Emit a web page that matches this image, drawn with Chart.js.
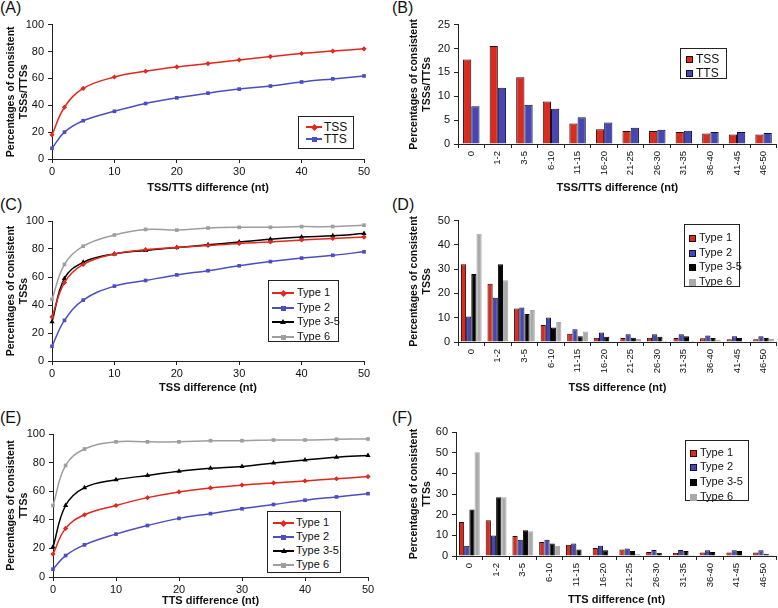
<!DOCTYPE html>
<html>
<head>
<meta charset="utf-8">
<script src="https://cdn.jsdelivr.net/npm/chart.js@4/dist/chart.umd.min.js"></script>
<style>
body{margin:0;background:#fff;font-family:"Liberation Sans",Arial,sans-serif;}
#fig{position:relative;width:778px;height:608px;overflow:hidden;background:#fff;}
#fig canvas{position:absolute;}
.tag{position:absolute;font-size:16px;line-height:16px;color:#111;}
.lg{position:absolute;border:1px solid #222;background:#fff;box-sizing:border-box;color:#111;}
.lg .txt{position:absolute;white-space:nowrap;}
.lg .sw{position:absolute;height:1.5px;}
.lg .mk{position:absolute;}
.lg .bx{position:absolute;width:7px;height:7px;box-sizing:border-box;}
</style>
</head>
<body>
<div id="fig">
  <div class="tag" style="left:0;top:0">(A)</div>
  <div class="tag" style="left:392px;top:0">(B)</div>
  <div class="tag" style="left:0;top:197px">(C)</div>
  <div class="tag" style="left:392px;top:197px">(D)</div>
  <div class="tag" style="left:0;top:410px">(E)</div>
  <div class="tag" style="left:392px;top:410px">(F)</div>
</div>
<script>
// x positions of the cumulative curves (nt) and the bins of the histograms
const lineX = [0, 2, 5, 10, 15, 20, 25, 30, 35, 40, 45, 50];
const bins = ["0", "1-2", "3-5", "6-10", "11-15", "16-20", "21-25", "26-30", "31-35", "36-40", "41-45", "46-50"];
const typeNames = ["Type 1", "Type 2", "Type 3-5", "Type 6"];

// (A) cumulative % of consistent TSSs / TTSs
const aTSS = [18, 38.5, 52.5, 61, 65.3, 68.5, 71, 73.7, 76.2, 78.5, 80.3, 82];
const aTTS = [8, 20, 28.5, 35.5, 41.3, 45.5, 49, 52, 54.3, 57.3, 59.6, 61.8];
// (B) % per bin
const bTSS = [17.7, 20.5, 14.0, 8.9, 4.3, 3.1, 2.7, 2.7, 2.5, 2.2, 2.0, 2.0];
const bTTS = [7.9, 11.8, 8.2, 7.4, 5.6, 4.5, 3.4, 3.0, 2.8, 2.5, 2.5, 2.3];
// (C) cumulative TSS by type
const cType1 = [31.5, 56, 69, 76.5, 79.5, 81, 82.5, 84, 85, 86.5, 87.5, 88.5];
const cType2 = [10.5, 29, 43.5, 53.5, 57.5, 61.5, 64.5, 68, 71, 73.5, 75.5, 78];
const cType35 = [28, 59, 70.5, 76.5, 79, 81, 83, 85, 87, 88.5, 89.5, 91];
const cType6 = [44, 69, 82, 90, 94, 93.5, 95, 95.5, 95.5, 96, 96, 97];
// (D) TSS per bin by type
const dType1 = [32, 24, 13.8, 7, 3.4, 1.8, 1.6, 1.7, 1.6, 1.5, 1.1, 1.1];
const dType2 = [10.5, 18.2, 14.2, 10.1, 5.3, 3.9, 3.2, 3.2, 3.2, 2.7, 2.4, 2.4];
const dType35 = [28, 32, 11.5, 6, 2.4, 2.2, 1.8, 2.2, 2.4, 1.6, 1.6, 1.6];
const dType6 = [44.6, 25.4, 13.2, 8.2, 4.3, 0.2, 1.2, 0.5, 0.5, 0.9, 0.3, 1.2];
// (E) cumulative TTS by type
const eType1 = [16, 34, 43.5, 50, 55.5, 59.5, 62.3, 64.3, 65.8, 67.2, 68.7, 70.2];
const eType2 = [5.5, 15, 22.5, 30, 36, 41, 44.3, 47.7, 50.7, 53.7, 56, 58.3];
const eType35 = [21, 50, 62.5, 68, 71, 74, 76, 77.3, 79.7, 81.8, 83.8, 85];
const eType6 = [50, 78, 89.5, 94.5, 94.5, 94.5, 95.3, 95.3, 95.8, 95.8, 96.3, 96.5];
// (F) TTS per bin by type
const fType1 = [16.5, 17.3, 9.7, 6.8, 5.5, 3.9, 3.1, 1.9, 1.6, 1.7, 1.7, 1.7];
const fType2 = [4.9, 9.9, 7.9, 7.9, 6, 4.9, 3.6, 2.9, 2.9, 2.8, 2.8, 2.8];
const fType35 = [22.5, 28.4, 12.5, 6, 3.1, 2.8, 2.4, 1.6, 2.4, 1.9, 2.4, 1.1];
const fType6 = [50.2, 28.4, 12, 4.9, 0.2, 0.1, 1.1, 0.3, 0.5, 0.3, 0.5, 0.5];

// tick labels
const xLineTicks = [0, 10, 20, 30, 40, 50];
const pctTicks = [0, 20, 40, 60, 80, 100];
const bTicks = [0, 5, 10, 15, 20, 25];
const dTicks = [0, 10, 20, 30, 40, 50];
const fTicks = [0, 10, 20, 30, 40, 50, 60];

const FONT = "'Liberation Sans', Arial, sans-serif";
const AX = "#222";
const RED = "#e0281e", BLUE = "#4d4dc2", BLACK = "#000000", GRAY = "#9e9e9e";
const lineStyle = [
  { color: RED, shape: "rectRot", r: 2.6 },
  { color: BLUE, shape: "rect", r: 2.6 },
  { color: BLACK, shape: "triangle", r: 3 },
  { color: GRAY, shape: "rect", r: 2.6 }
];
const barStyle = [
  { fill: "#d92b1f", line: "#2a0805" },
  { fill: "#4646b6", line: "#10102e" },
  { fill: "#060606", line: "#000000" },
  { fill: "#a9a9a9", line: "#a9a9a9" }
];

const fig = document.getElementById("fig");

function addCanvas(box){
  const c = document.createElement("canvas");
  c.width = box.w; c.height = box.h;
  c.style.left = box.x + "px"; c.style.top = box.y + "px";
  c.style.width = box.w + "px"; c.style.height = box.h + "px";
  fig.appendChild(c);
  return c;
}

function fixTicks(list){
  return function(s){ s.ticks = list.map(v => ({ value: v })); };
}

// box = canvas rect on the page, area = wanted plot rect on the page
function panel(box, area, padLeft, type, datasets, xTitle, yTitle, yTicks, titleBottom){
  const canvas = addCanvas(box);
  let xScale;
  if(type === "line"){
    xScale = {
      type: "linear", min: 0, max: 50,
      afterBuildTicks: fixTicks(xLineTicks),
      ticks: { color: "#111", font: { family: FONT, size: 11 }, padding: 2 }
    };
  } else {
    xScale = {
      type: "category", offset: true,
      ticks: { color: "#111", font: { family: FONT, size: 9.5 }, padding: 3,
        maxRotation: 90, minRotation: 90, autoSkip: false }
    };
  }
  xScale.afterFit = s => { s.height = box.y + box.h - area.bottom; };
  xScale.grid = { drawOnChartArea: false, tickLength: 4, color: AX, offset: type !== "line" };
  xScale.border = { color: AX, width: 1 };
  xScale.title = { display: true, text: xTitle, color: "#111",
    font: { family: FONT, size: 11, weight: "bold" }, padding: { top: 0, bottom: titleBottom } };

  new Chart(canvas, {
    type: type,
    data: { labels: type === "bar" ? bins : undefined, datasets: datasets },
    options: {
      responsive: false,
      animation: false,
      devicePixelRatio: 1,
      layout: { padding: { left: padLeft, top: area.top - box.y, right: box.x + box.w - area.right, bottom: 0 } },
      plugins: { legend: { display: false }, tooltip: { enabled: false } },
      scales: {
        x: xScale,
        y: {
          min: yTicks[0], max: yTicks[yTicks.length - 1],
          afterBuildTicks: fixTicks(yTicks),
          afterFit: s => { s.width = area.left - box.x - padLeft; },
          ticks: { color: "#111", font: { family: FONT, size: 11 }, padding: 4 },
          grid: { drawOnChartArea: false, tickLength: 4, color: AX },
          border: { color: AX, width: 1 },
          title: { display: true, text: yTitle, color: "#111",
            font: { family: FONT, size: 10.5, weight: "bold" }, padding: { top: 5, bottom: 0 } }
        }
      }
    }
  });
}

function lineSets(names, series){
  return series.map((vals, i) => {
    const st = lineStyle[i];
    return {
      label: names[i],
      data: vals.map((v, k) => ({ x: lineX[k], y: v })),
      borderColor: st.color, backgroundColor: st.color,
      borderWidth: 1.5, tension: 0.4, clip: false,
      pointStyle: st.shape, pointRadius: st.r, pointBorderWidth: 0,
      pointBackgroundColor: st.color
    };
  });
}

function barSets(names, series, catPct){
  return series.map((vals, i) => ({
    label: names[i],
    data: vals,
    backgroundColor: barStyle[i].fill,
    borderColor: barStyle[i].line,
    borderWidth: 1,
    categoryPercentage: catPct,
    barPercentage: 1
  }));
}

function legend(rect, names, styles, kind, fontSize, rows, swX, swW, textX){
  const d = document.createElement("div");
  d.className = "lg";
  Object.assign(d.style, { left: rect.x + "px", top: rect.y + "px", width: rect.w + "px", height: rect.h + "px", fontSize: fontSize + "px" });
  names.forEach((name, i) => {
    const cy = rows[i];
    if(kind === "line"){
      const st = styles[i];
      const sw = document.createElement("div");
      sw.className = "sw";
      Object.assign(sw.style, { left: swX + "px", top: (cy - 1) + "px", width: swW + "px", background: st.color });
      d.appendChild(sw);
      const mk = document.createElement("div");
      mk.className = "mk";
      const mx = swX + swW / 2;
      if(st.shape === "triangle"){
        Object.assign(mk.style, { left: (mx - 3) + "px", top: (cy - 3.5) + "px", width: 0, height: 0,
          borderLeft: "3px solid transparent", borderRight: "3px solid transparent", borderBottom: "5px solid " + st.color });
      } else {
        Object.assign(mk.style, { left: (mx - 2.5) + "px", top: (cy - 2.5) + "px", width: "5px", height: "5px", background: st.color,
          transform: st.shape === "rectRot" ? "rotate(45deg)" : "none" });
      }
      d.appendChild(mk);
    } else {
      const bx = document.createElement("div");
      bx.className = "bx";
      Object.assign(bx.style, { left: swX + "px", top: (cy - 3.5) + "px", background: styles[i].fill, border: "1px solid " + styles[i].line });
      d.appendChild(bx);
    }
    const t = document.createElement("div");
    t.className = "txt";
    t.textContent = name;
    Object.assign(t.style, { left: textX + "px", top: (cy - fontSize * 0.6) + "px", lineHeight: (fontSize * 1.2) + "px" });
    d.appendChild(t);
  });
  fig.appendChild(d);
}

const yTitleTSSTTS = ["Percentages of consistent", "TSSs/TTSs"];

// (A)
panel({ x: 0, y: 14, w: 380, h: 186 }, { left: 52, top: 20, right: 364, bottom: 159 }, 0, "line",
  lineSets(["TSS", "TTS"], [aTSS, aTTS]), "TSS/TTS difference (nt)", yTitleTSSTTS, pctTicks, 5);
legend({ x: 298, y: 116, w: 56, h: 33 }, ["TSS", "TTS"], lineStyle, "line", 12, [10, 22], 7, 16, 25);

// (B)
panel({ x: 390, y: 14, w: 388, h: 186 }, { left: 458, top: 20, right: 777, bottom: 144 }, 13, "bar",
  barSets(["TSS", "TTS"], [bTSS, bTTS], 0.62), "TSS/TTS difference (nt)", yTitleTSSTTS, bTicks, 5);
legend({ x: 680, y: 48, w: 47, h: 31 }, ["TSS", "TTS"], barStyle, "box", 12, [10, 24], 5, 7, 15);

// (C)
panel({ x: 0, y: 210, w: 380, h: 190 }, { left: 52, top: 221, right: 364, bottom: 361 }, 0, "line",
  lineSets(typeNames, [cType1, cType2, cType35, cType6]), "TSS difference (nt)", ["Percentages of consistent", "TSSs"], pctTicks, 5);
legend({ x: 268, y: 280, w: 71, h: 62 }, typeNames, lineStyle, "line", 11, [12, 27, 41, 56], 3, 22, 28);

// (D)
panel({ x: 390, y: 210, w: 388, h: 190 }, { left: 458, top: 218, right: 777, bottom: 342 }, 13, "bar",
  barSets(typeNames, [dType1, dType2, dType35, dType6], 0.78), "TSS difference (nt)", ["Percentages of consistent", "TSSs"], dTicks, 5);
legend({ x: 684, y: 224, w: 56, h: 63 }, typeNames, barStyle, "box", 11, [13, 28, 42, 57], 4, 7, 14);

// (E)
panel({ x: 0, y: 420, w: 380, h: 188 }, { left: 53, top: 434, right: 368, bottom: 577 }, 0, "line",
  lineSets(typeNames, [eType1, eType2, eType35, eType6]), "TTS difference (nt)", ["Percentages of consistent", "TTSs"], pctTicks, 0);
legend({ x: 267, y: 511, w: 74, h: 62 }, typeNames, lineStyle, "line", 11, [11, 25, 39, 53], 5, 21, 28);

// (F)
panel({ x: 390, y: 420, w: 388, h: 188 }, { left: 456, top: 432, right: 777, bottom: 556 }, 13, "bar",
  barSets(typeNames, [fType1, fType2, fType35, fType6], 0.78), "TTS difference (nt)", ["Percentages of consistent", "TTSs"], fTicks, 1);
legend({ x: 685, y: 440, w: 64, h: 61 }, typeNames, barStyle, "box", 11, [12, 26, 41, 56], 4, 7, 14);
</script>
</body>
</html>
